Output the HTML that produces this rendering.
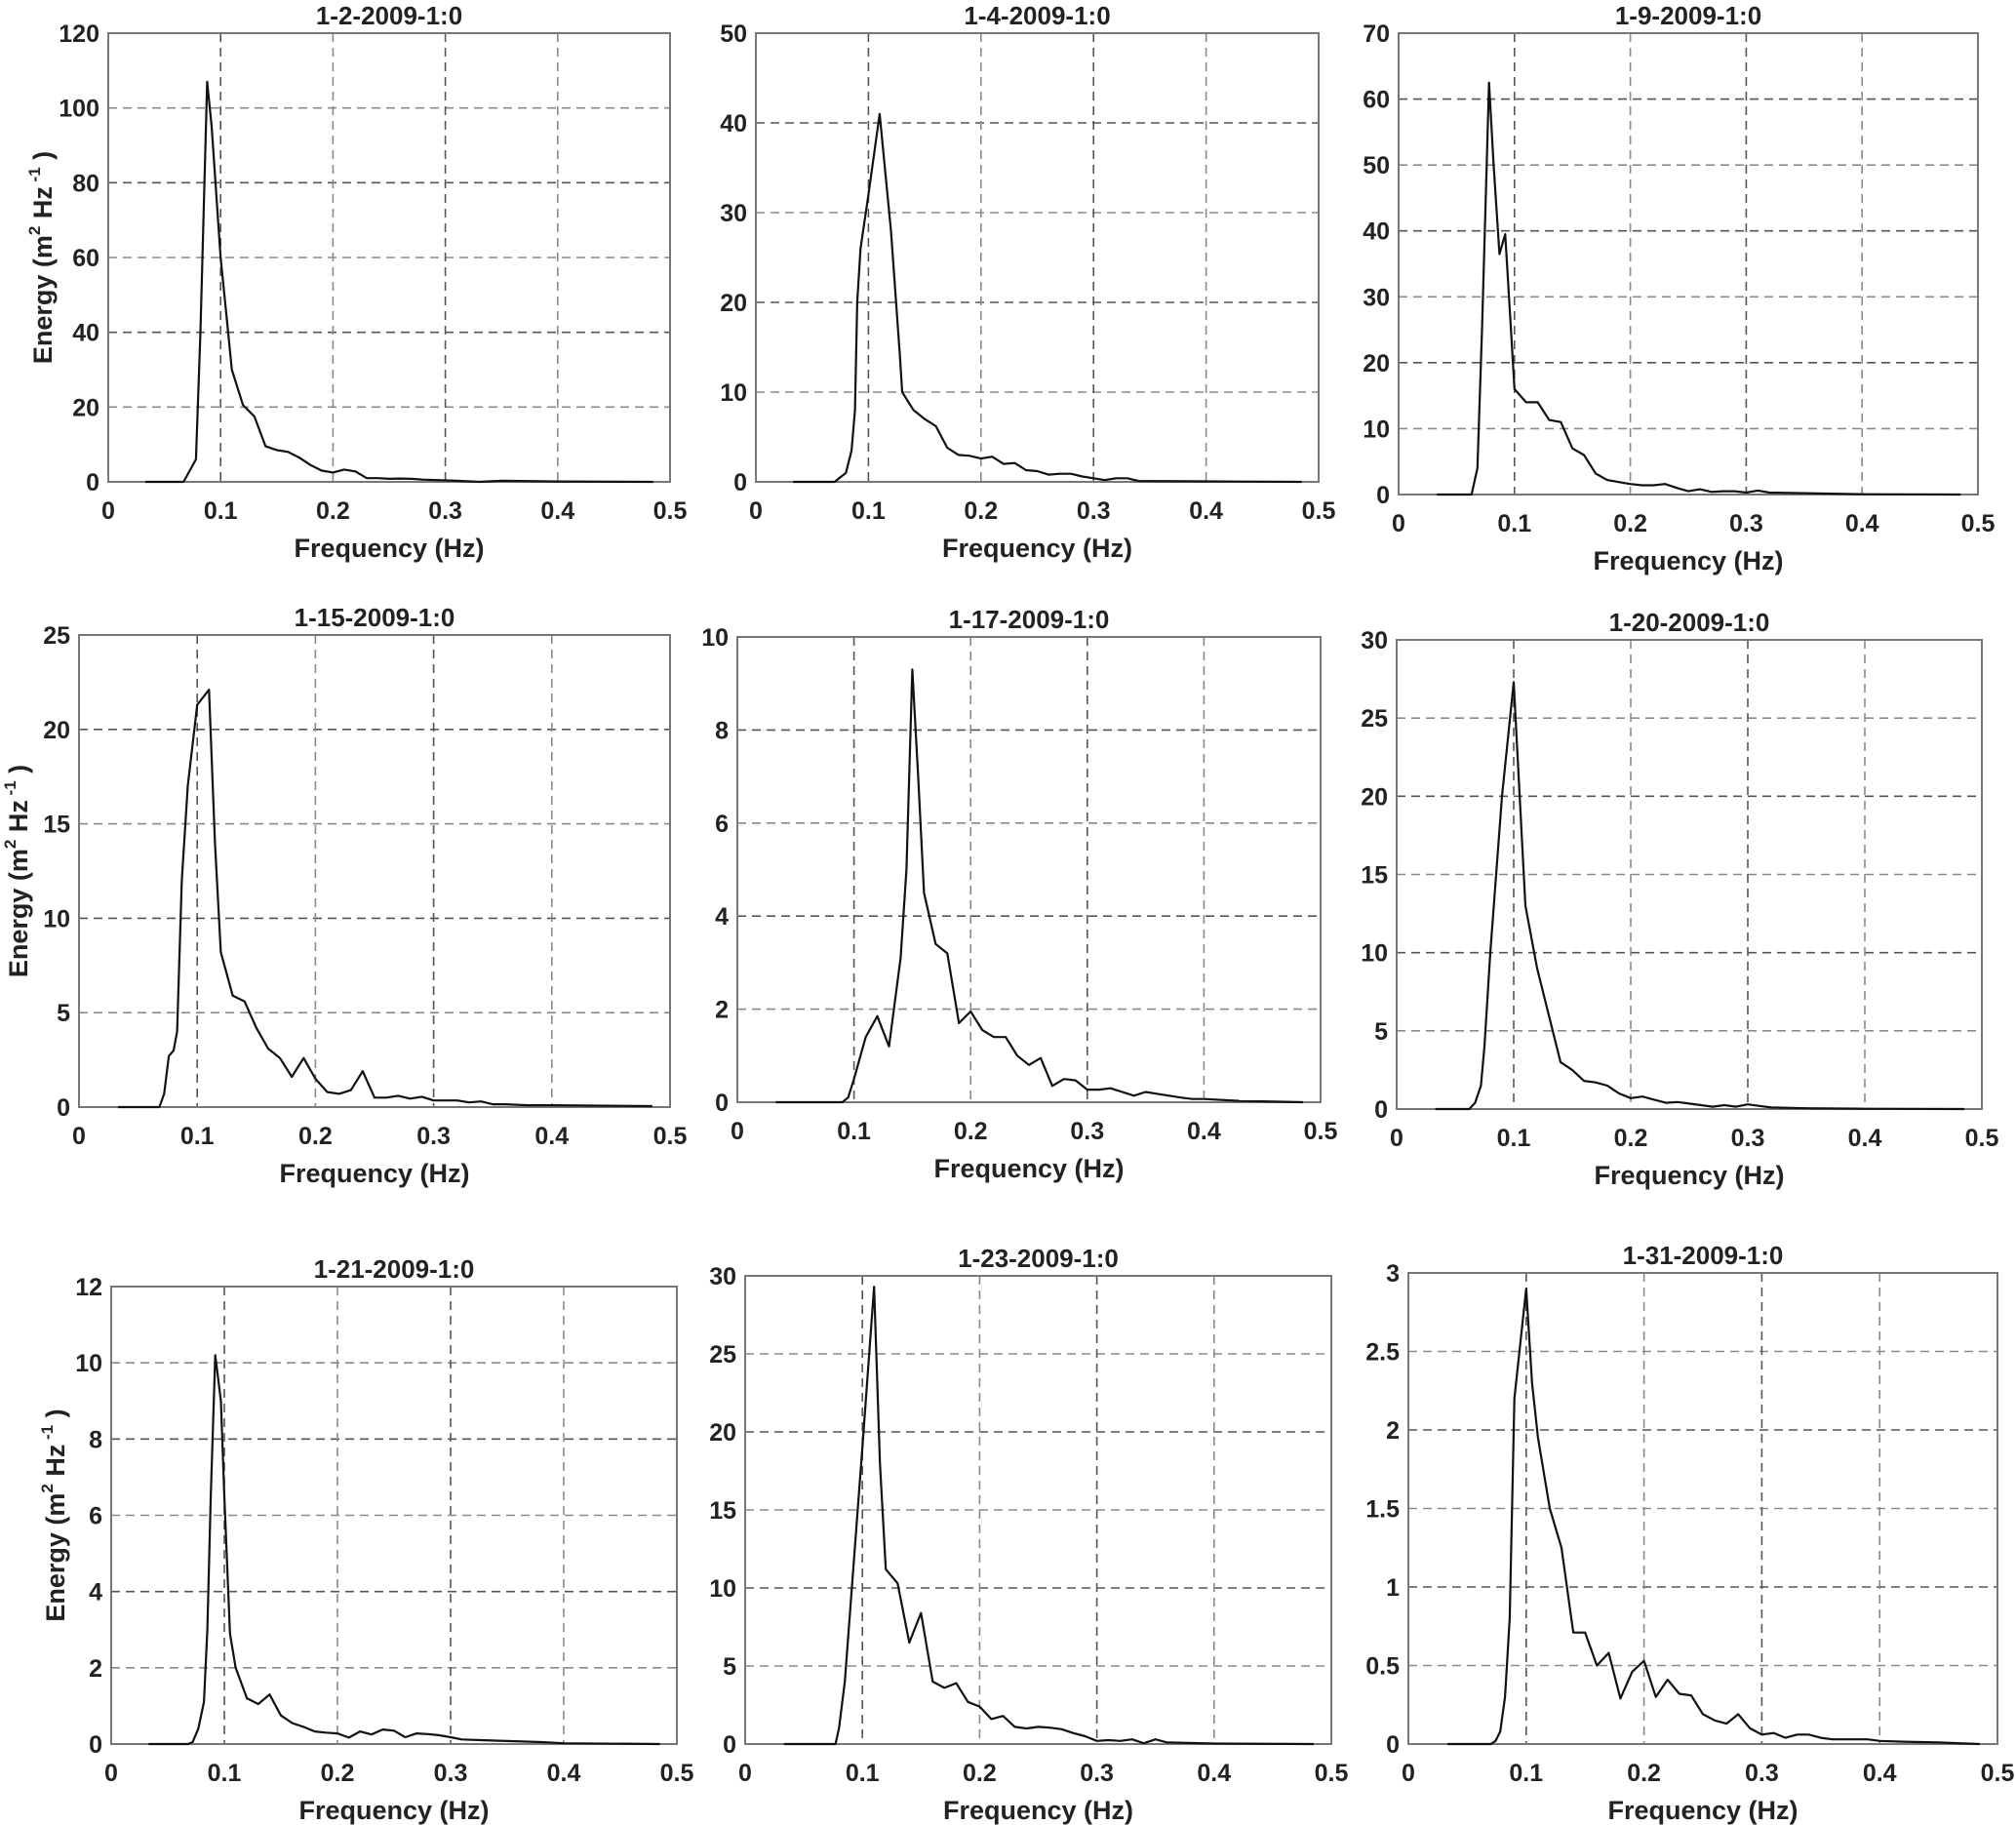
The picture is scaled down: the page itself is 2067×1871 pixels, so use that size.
<!DOCTYPE html>
<html><head><meta charset="utf-8"><style>
html,body{margin:0;padding:0;background:#fff;}
svg{display:block;}
text{font-family:"Liberation Sans",Arial,sans-serif;font-weight:bold;fill:#222;}
</style></head>
<body>
<svg id="fig" width="2067" height="1871" viewBox="0 0 2067 1871" xmlns="http://www.w3.org/2000/svg"></svg>
<script>
// ---- data ----
const titles = ["1-2-2009-1:0","1-4-2009-1:0","1-9-2009-1:0","1-15-2009-1:0","1-17-2009-1:0","1-20-2009-1:0","1-21-2009-1:0","1-23-2009-1:0","1-31-2009-1:0"];
const yMax = [120,50,70,25,10,30,12,30,3];
const yStep = [20,10,10,5,2,5,2,5,0.5];
const xTicks = [0,0.1,0.2,0.3,0.4,0.5];
const f1 = [0.033,0.067,0.078,0.082,0.088,0.092,0.1,0.105,0.11,0.12,0.13,0.14,0.15,0.16,0.17,0.18,0.19,0.2,0.21,0.22,0.23,0.24,0.25,0.26,0.27,0.28,0.3,0.31,0.33,0.35,0.4,0.485];
const e1 = [0,0,6,40,107,95,60,45,30,20.5,17.5,9.5,8.5,8,6.5,4.5,3,2.5,3.3,2.8,1,1,0.8,0.9,0.8,0.6,0.4,0.3,0,0.3,0.1,0];
const f2 = [0.033,0.07,0.075,0.08,0.085,0.088,0.09,0.093,0.1,0.11,0.12,0.128,0.13,0.14,0.15,0.16,0.17,0.18,0.19,0.2,0.21,0.22,0.23,0.24,0.25,0.26,0.27,0.28,0.29,0.3,0.31,0.32,0.33,0.34,0.4,0.485];
const e2 = [0,0,0.5,1,3.5,8,20,26,32,41,28,14,10,8,7,6.2,3.8,3,2.9,2.6,2.8,2,2.1,1.3,1.2,0.8,0.9,0.9,0.6,0.4,0.2,0.4,0.4,0.1,0.05,0];
const f3 = [0.033,0.063,0.068,0.072,0.078,0.082,0.087,0.092,0.097,0.1,0.11,0.12,0.13,0.14,0.15,0.16,0.17,0.18,0.19,0.2,0.21,0.22,0.23,0.24,0.25,0.26,0.27,0.28,0.29,0.3,0.31,0.32,0.35,0.4,0.485];
const e3 = [0,0,4,25,62.5,50,36.5,39.5,25,16,14,14,11.3,11,7,6,3.2,2.2,1.9,1.6,1.4,1.4,1.6,1,0.5,0.8,0.4,0.5,0.5,0.3,0.6,0.3,0.2,0.05,0];
const f4 = [0.033,0.068,0.072,0.076,0.08,0.083,0.087,0.092,0.1,0.11,0.115,0.12,0.13,0.14,0.15,0.16,0.17,0.18,0.19,0.2,0.21,0.22,0.23,0.24,0.25,0.26,0.27,0.28,0.29,0.3,0.32,0.33,0.34,0.35,0.36,0.38,0.4,0.485];
const e4 = [0,0,0.7,2.7,3,4,12,17,21.3,22.1,14,8.2,5.9,5.6,4.2,3.1,2.6,1.6,2.6,1.5,0.8,0.7,0.9,1.9,0.5,0.5,0.6,0.45,0.55,0.35,0.35,0.25,0.3,0.15,0.15,0.1,0.1,0.05];
const f5 = [0.033,0.09,0.095,0.1,0.11,0.12,0.13,0.14,0.145,0.15,0.155,0.16,0.17,0.18,0.19,0.2,0.21,0.22,0.23,0.24,0.25,0.26,0.27,0.28,0.29,0.3,0.31,0.32,0.33,0.34,0.35,0.36,0.38,0.39,0.4,0.43,0.485];
const e5 = [0,0,0.1,0.5,1.4,1.85,1.2,3.1,5,9.3,7,4.5,3.4,3.2,1.7,1.95,1.55,1.4,1.4,1,0.8,0.95,0.35,0.5,0.47,0.27,0.27,0.3,0.22,0.14,0.22,0.18,0.1,0.07,0.07,0.03,0];
const f6 = [0.033,0.062,0.067,0.072,0.075,0.08,0.09,0.1,0.11,0.12,0.13,0.14,0.15,0.16,0.17,0.18,0.19,0.2,0.21,0.22,0.23,0.24,0.25,0.26,0.27,0.28,0.29,0.3,0.31,0.32,0.35,0.4,0.485];
const e6 = [0,0,0.4,1.5,4,10,20,27.3,13,9,6,3,2.5,1.8,1.7,1.5,1,0.7,0.8,0.6,0.4,0.45,0.35,0.25,0.15,0.25,0.15,0.3,0.2,0.1,0.05,0.02,0];
const f7 = [0.033,0.068,0.072,0.077,0.082,0.085,0.088,0.092,0.097,0.1,0.105,0.11,0.12,0.13,0.14,0.15,0.16,0.17,0.18,0.19,0.2,0.21,0.22,0.23,0.24,0.25,0.26,0.27,0.28,0.29,0.3,0.31,0.33,0.35,0.38,0.4,0.485];
const e7 = [0,0,0.05,0.4,1.1,3,6.5,10.2,9,6.5,2.9,2,1.2,1.05,1.3,0.75,0.55,0.45,0.33,0.3,0.28,0.17,0.33,0.25,0.38,0.35,0.18,0.28,0.26,0.23,0.18,0.12,0.1,0.08,0.05,0.02,0];
const f8 = [0.033,0.077,0.08,0.085,0.09,0.1,0.11,0.115,0.12,0.13,0.14,0.15,0.16,0.17,0.18,0.19,0.2,0.21,0.22,0.23,0.24,0.25,0.26,0.27,0.28,0.29,0.3,0.31,0.32,0.33,0.34,0.35,0.36,0.4,0.485];
const e8 = [0,0,1,4,9,19,29.3,18,11.2,10.3,6.5,8.4,4,3.6,3.9,2.7,2.4,1.6,1.8,1.1,1,1.1,1.05,0.95,0.7,0.5,0.2,0.25,0.2,0.3,0.05,0.3,0.1,0.03,0];
const f9 = [0.033,0.07,0.074,0.078,0.082,0.086,0.09,0.1,0.105,0.11,0.12,0.13,0.14,0.15,0.16,0.17,0.18,0.19,0.2,0.21,0.22,0.23,0.24,0.25,0.26,0.27,0.28,0.29,0.3,0.31,0.32,0.33,0.34,0.35,0.36,0.39,0.4,0.42,0.45,0.485];
const e9 = [0,0,0.02,0.08,0.3,0.8,2.2,2.9,2.3,1.95,1.5,1.25,0.71,0.71,0.5,0.58,0.29,0.46,0.53,0.3,0.41,0.32,0.31,0.19,0.15,0.13,0.19,0.1,0.06,0.07,0.04,0.06,0.06,0.04,0.03,0.03,0.02,0.015,0.01,0];
const freqs = [f1,f2,f3,f4,f5,f6,f7,f8,f9];
const energies = [e1,e2,e3,e4,e5,e6,e7,e8,e9];

// ---- layout (pixel boxes, not data) ----
const boxes = [
 [111,34,687,494],[775,34,1352,494],[1434,34,2028,507],
 [81,651,687,1135],[756,653,1354,1130],[1432,656,2032,1137],
 [114,1319,694,1788],[764,1308,1365,1788],[1444,1305,2048,1788]
];
const yLabelX = [43,null,null,18,null,null,56,null,null];

const NS="http://www.w3.org/2000/svg";
const svg=document.getElementById('fig');
function mk(tag,attrs,parent){const e=document.createElementNS(NS,tag);for(const k in attrs)e.setAttribute(k,attrs[k]);(parent||svg).appendChild(e);return e;}
function fmt(v){return (Math.round(v*1000)/1000).toString();}

for(let p=0;p<9;p++){
  const [L,T,R,B]=boxes[p];
  const g=mk('g',{});
  
  
  const xs=v=>L+(v/0.5)*(R-L);
  const ys=v=>B-(v/yMax[p])*(B-T);
  // grid
  const nY=Math.round(yMax[p]/yStep[p]);
  for(let i=1;i<nY;i++){
    const y=ys(i*yStep[p]);
    const gl=mk('line',{x1:L,x2:R,y1:y,y2:y,stroke:(i%2?'#8a8a8a':'#555'),'stroke-width':1.6,'stroke-dasharray':'9,6'},g);
    
    
  }
  for(let i=1;i<xTicks.length-1;i++){
    const x=xs(xTicks[i]);
    const gl=mk('line',{x1:x,x2:x,y1:T,y2:B,stroke:(i%2?'#555':'#8a8a8a'),'stroke-width':1.6,'stroke-dasharray':'9,6'},g);
    
    
  }
  // frame
  const fr=mk('rect',{x:L,y:T,width:R-L,height:B-T,fill:'none',stroke:'#777','stroke-width':2},g);
  
  
  // y ticks
  for(let i=0;i<=nY;i++){
    const v=i*yStep[p];
    const t=mk('text',{x:L-9,y:ys(v)+9,'text-anchor':'end','font-size':25},g);
    t.textContent=fmt(v);
    
    
  }
  // x ticks
  for(const v of xTicks){
    const t=mk('text',{x:xs(v),y:B+38,'text-anchor':'middle','font-size':25},g);
    t.textContent=fmt(v);
    
    
  }
  // title
  const tt=mk('text',{x:(L+R)/2,y:T-9,'text-anchor':'middle','font-size':26},g);
  tt.textContent=titles[p];
  
  
  // x label
  const xl=mk('text',{x:(L+R)/2,y:B+77,'text-anchor':'middle','font-size':27,fill:'#333'},g);
  xl.textContent='Frequency (Hz)';
  
  
  // y label
  if(yLabelX[p]!==null){
    const cx=yLabelX[p], cy=(T+B)/2;
    const yl=mk('text',{x:0,y:0,'text-anchor':'middle','font-size':27,fill:'#333',transform:`translate(${cx+10},${cy}) rotate(-90)`},g);
    
    
    yl.innerHTML='Energy (m<tspan font-size="17" dy="-12">2</tspan><tspan dy="12"> Hz</tspan><tspan font-size="17" dy="-12"> -1</tspan><tspan dy="12"> )</tspan>';
  }
  // series
  const fa=freqs[p], ea=energies[p];
  let d='';
  for(let i=0;i<fa.length;i++){d+=(i?'L':'M')+xs(fa[i]).toFixed(1)+','+ys(ea[i]).toFixed(1);}
  const ln=mk('path',{d:d,fill:'none',stroke:'#111','stroke-width':2.2,'stroke-linejoin':'round'},g);
  
  
}
</script>
</body></html>
